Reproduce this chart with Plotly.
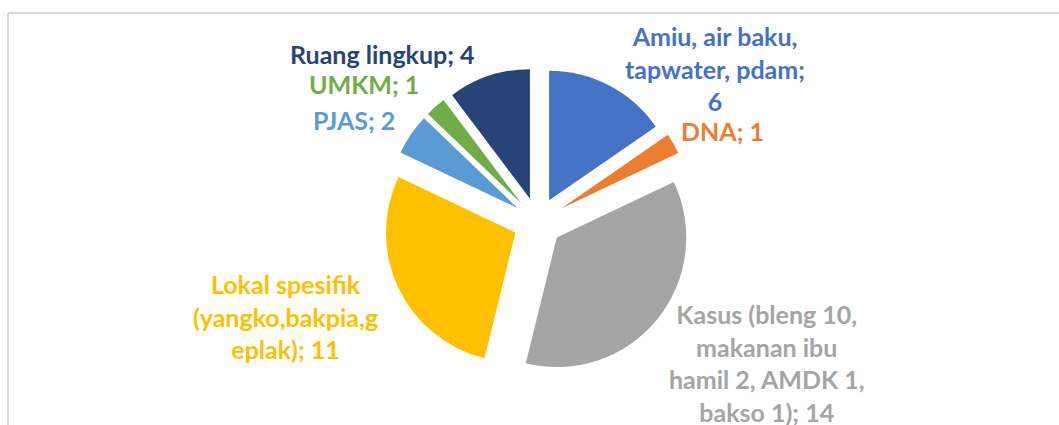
import plotly.graph_objects as go

# ---- data ----
categories = [
    "Amiu, air baku, tapwater, pdam",
    "DNA",
    "Kasus (bleng 10, makanan ibu hamil 2, AMDK 1, bakso 1)",
    "Lokal spesifik (yangko,bakpia,geplak)",
    "PJAS",
    "UMKM",
    "Ruang lingkup",
]
values = [6, 1, 14, 11, 2, 1, 4]

# ---- style / layout ----
colors = ["#4472C4", "#ED7D31", "#A5A5A5", "#FFC000", "#5B9BD5", "#70AD47", "#264478"]
pulls = [0.19, 0.21, 0.19, 0.19, 0.19, 0.19, 0.19]
W, H = 1059, 425
CX, CY, R = 537.7, 222.0, 129.5          # pie centre / radius in px
label_px = [(715, 68), (722, 131), (767, 363), (285, 316), (354, 120), (364, 84), (382, 54)]
FONT = "Lato"
FSIZE = 25
WRAP = 16


def wrap(s, w):
    lines, cur = [], ""
    for word in s.split(" "):
        cand = word if not cur else cur + " " + word
        if len(cand) <= w:
            cur = cand
            continue
        if cur:
            lines.append(cur)
            cur = ""
        while len(word) > w:
            lines.append(word[:w])
            word = word[w:]
        cur = word
    if cur:
        lines.append(cur)
    return lines


half = R * (1 + max(pulls))
dom_x = [(CX - half) / W, (CX + half) / W]
dom_y = [1 - (CY + half) / H, 1 - (CY - half) / H]

fig = go.Figure(
    go.Pie(
        labels=categories,
        values=values,
        marker=dict(colors=colors, line=dict(width=0)),
        pull=pulls,
        sort=False,
        direction="clockwise",
        rotation=0,
        textinfo="none",
        showlegend=False,
        domain=dict(x=dom_x, y=dom_y),
    )
)

annotations = []
for cat, val, col, (px, py) in zip(categories, values, colors, label_px):
    txt = "<br>".join(wrap(f"{cat}; {val}", WRAP))
    annotations.append(
        dict(
            x=px / W, y=1 - py / H, xref="paper", yref="paper",
            text=txt, showarrow=False, align="center",
            xanchor="center", yanchor="middle",
            font=dict(family=FONT, size=FSIZE, color=col, weight="bold"),
        )
    )

frame = dict(color="#D9D9D9", width=2)
shapes = [
    dict(type="line", xref="paper", yref="paper", x0=8 / W, x1=1.02, y0=1 - 13 / H, y1=1 - 13 / H, line=frame),
    dict(type="line", xref="paper", yref="paper", x0=8 / W, x1=8 / W, y0=1 - 13 / H, y1=-0.02, line=frame),
]

fig.update_layout(
    width=W, height=H,
    margin=dict(l=0, r=0, t=0, b=0),
    paper_bgcolor="white", plot_bgcolor="white",
    annotations=annotations,
    shapes=shapes,
)

fig.write_html(
    "out.html",
    config={"displayModeBar": False},
    post_script="document.body.style.margin='0';document.body.style.overflow='hidden';",
)
